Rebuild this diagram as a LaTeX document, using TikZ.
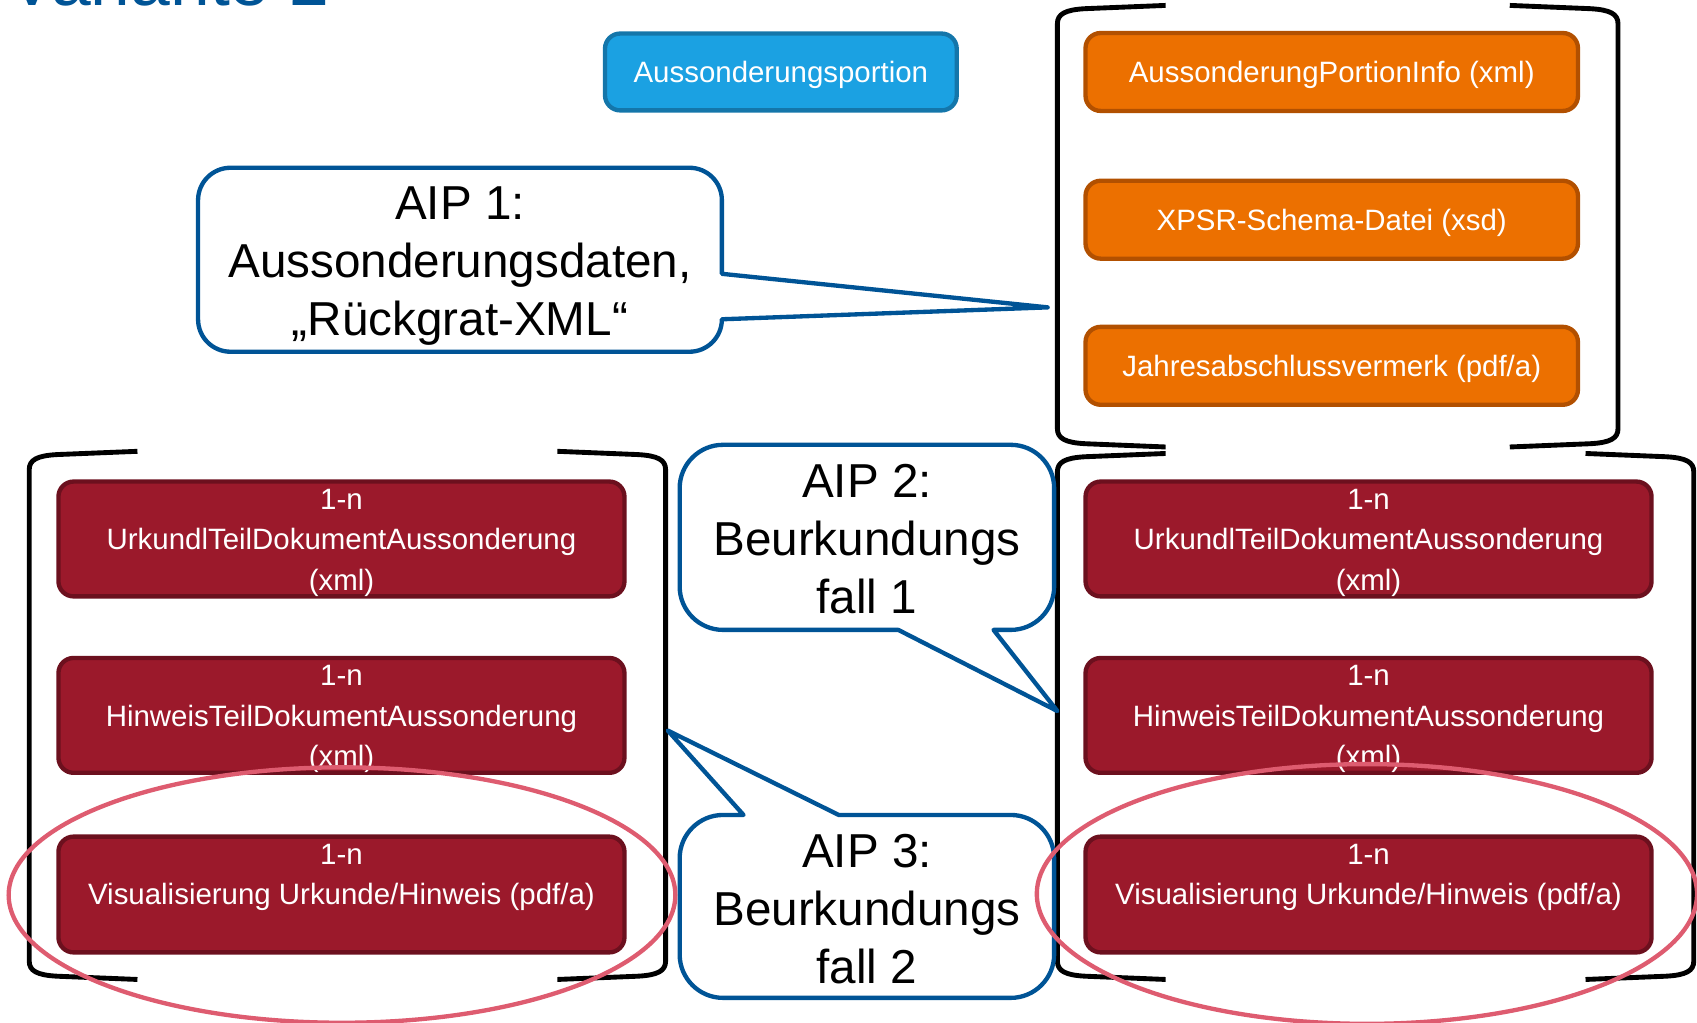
\documentclass[tikz,border=0pt]{standalone}
\usepackage{fontspec}
\setmainfont{Liberation Sans}
\definecolor{titleblue}{RGB}{0,84,150}
\definecolor{lbfill}{RGB}{27,161,226}
\definecolor{lbdraw}{RGB}{20,118,170}
\definecolor{orfill}{RGB}{236,112,0}
\definecolor{ordraw}{RGB}{178,80,0}
\definecolor{rdfill}{RGB}{155,25,43}
\definecolor{rddraw}{RGB}{108,16,30}
\definecolor{callblue}{RGB}{0,84,150}
\definecolor{ellpink}{RGB}{222,92,112}
\newcommand{\brbox}[4]{%
  \draw[brk] (#1+100,#3) -- (#1+26,#3+3) .. controls (#1+7,#3+4) and (#1,#3+8) .. (#1,#3+17)
     -- (#1,#4-17) .. controls (#1,#4-8) and (#1+7,#4-4) .. (#1+26,#4-3) -- (#1+100,#4);
  \draw[brk] (#2-100,#3) -- (#2-26,#3+3) .. controls (#2-7,#3+4) and (#2,#3+8) .. (#2,#3+17)
     -- (#2,#4-17) .. controls (#2,#4-8) and (#2-7,#4-4) .. (#2-26,#4-3) -- (#2-100,#4);
}
\begin{document}
\begin{tikzpicture}[x=1pt,y=-1pt,
  brk/.style={draw=black,line width=4.5pt,line cap=butt,line join=round},
  boxbase/.style={rectangle,rounded corners=14pt,line width=4pt,text=white,
    inner sep=0pt,align=center,font=\fontsize{27.2}{37.5}\selectfont},
  onelinebox/.style={execute at begin node={\rule{0pt}{26pt}}},
  bluebox/.style={boxbase,onelinebox,fill=lbfill,draw=lbdraw},
  orbox/.style={boxbase,onelinebox,fill=orfill,draw=ordraw,minimum width=455pt,minimum height=72pt},
  rdbox/.style={boxbase,fill=rdfill,draw=rddraw,minimum width=523pt},
  callout/.style={draw=callblue,fill=white,line width=4pt,line join=round},
  calltext/.style={align=center,inner sep=0pt,text=black,font=\fontsize{44}{53.5}\selectfont},
  ell/.style={draw=ellpink,line width=4pt},
  titlestyle/.style={text=titleblue,inner sep=0pt,font=\fontsize{66}{74}\selectfont}
]
\useasboundingbox (0,0) rectangle (1568,945);

% title (mostly cut off at the top)
\node[titlestyle,anchor=base west] (title) at (8,5) {Variante 2};

% containers
\brbox{977}{1495}{5}{413}
\brbox{27}{615}{417}{905}
\brbox{977}{1565}{419}{905}

% top boxes
\node[bluebox,minimum width=325pt,minimum height=71pt] (portion) at (721.5,66.5) {Aussonderungsportion};
\node[orbox] (o1) at (1230.5,66.5) {AussonderungPortionInfo (xml)};
\node[orbox] (o2) at (1230.5,203) {XPSR-Schema-Datei (xsd)};
\node[orbox] (o3) at (1230.5,338) {Jahresabschlussvermerk (pdf/a)};

% left red boxes
\node[rdbox,minimum height=104pt] (l1) at (315.5,498) {\mbox{}\\[-12pt]1-n\\UrkundlTeilDokumentAussonderung\\(xml)};
\node[rdbox,minimum height=102pt] (l2) at (315.5,661) {\mbox{}\\[-12pt]1-n\\HinweisTeilDokumentAussonderung\\(xml)};
\node[rdbox,minimum height=107pt] (l3) at (315.5,826.5) {1-n\\Visualisierung Urkunde/Hinweis (pdf/a)\\\phantom{x}};

% right red boxes
\node[rdbox,minimum height=104pt] (r1) at (1264.5,498) {\mbox{}\\[-12pt]1-n\\UrkundlTeilDokumentAussonderung\\(xml)};
\node[rdbox,minimum height=102pt] (r2) at (1264.5,661) {\mbox{}\\[-12pt]1-n\\HinweisTeilDokumentAussonderung\\(xml)};
\node[rdbox,minimum height=107pt] (r3) at (1264.5,826.5) {1-n\\Visualisierung Urkunde/Hinweis (pdf/a)\\\phantom{x}};

% callout tips
\coordinate (tip1) at (968,284);
\coordinate (tip2) at (977,657);
\coordinate (tip3) at (617,675);

% AIP 1 callout
\draw[callout] (213,155) -- (637,155) .. controls (653.6,155) and (667,168.4) .. (667,185)
  -- (667,253) -- (tip1) -- (667,295) .. controls (667,311.6) and (653.6,325) .. (637,325)
  -- (213,325) .. controls (196.4,325) and (183,311.6) .. (183,295)
  -- (183,185) .. controls (183,168.4) and (196.4,155) .. (213,155) -- cycle;
\node[calltext] (aip1) at (425,246) {AIP 1:\\Aussonderungsdaten,\\„Rückgrat-XML“};

% AIP 2 callout
\draw[callout] (668,411) -- (934,411) .. controls (956,411) and (974,429) .. (974,451)
  -- (974,542) .. controls (974,564) and (956,582) .. (934,582)
  -- (918,582) -- (tip2) -- (830,582)
  -- (668,582) .. controls (646,582) and (628,564) .. (628,542)
  -- (628,451) .. controls (628,429) and (646,411) .. (668,411) -- cycle;
\node[calltext] (aip2) at (801,498) {AIP 2:\\Beurkundungs\\fall 1};

% AIP 3 callout
\draw[callout] (668,753) -- (687,753) -- (tip3) -- (775,753)
  -- (934,753) .. controls (956,753) and (974,771) .. (974,793)
  -- (974,882) .. controls (974,904) and (956,922) .. (934,922)
  -- (668,922) .. controls (646,922) and (628,904) .. (628,882)
  -- (628,793) .. controls (628,771) and (646,753) .. (668,753) -- cycle;
\node[calltext] (aip3) at (801,840) {AIP 3:\\Beurkundungs\\fall 2};

% highlight ellipses
\draw[ell] (316,827) ellipse [x radius=308, y radius=118];
\draw[ell] (1263,826) ellipse [x radius=305, y radius=120];
\end{tikzpicture}
\end{document}
